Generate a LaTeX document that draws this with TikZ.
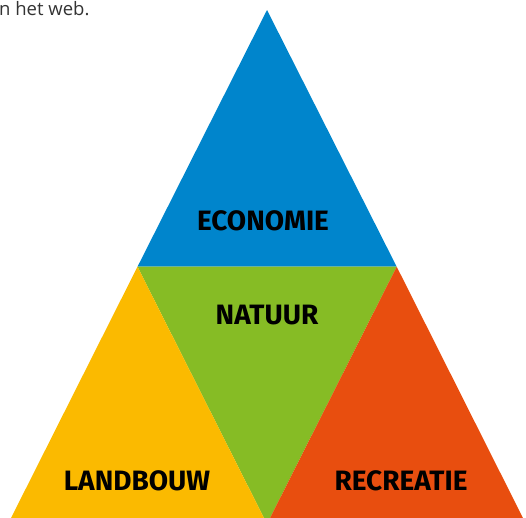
\documentclass[tikz,border=0pt]{standalone}
\usepackage{fontspec}
\setmainfont{Open Sans}
\newfontfamily\labfont{Fira Sans}
\definecolor{cblue}{HTML}{0085CC}
\definecolor{cgreen}{HTML}{86BC25}
\definecolor{cyellow}{HTML}{FBBA00}
\definecolor{corange}{HTML}{E84E0F}
\definecolor{ctext}{HTML}{333333}
\tikzset{
  lab/.style={font=\labfont\bfseries\fontsize{28}{28}\selectfont, text=black, inner sep=0pt, anchor=base},
}
\begin{document}
\begin{tikzpicture}[x=1pt,y=-1pt]
\useasboundingbox (0,0) rectangle (526,517);
\begin{scope}
\clip (0,0) rectangle (526,517);
\coordinate (A) at (267,10);
\coordinate (L) at (137.5,266.7);
\coordinate (R) at (396.7,266.7);
\coordinate (B) at (267,524);
\coordinate (BL) at (8,524);
\coordinate (BR) at (526,524);
\fill[cblue] (A) -- (R) -- (L) -- cycle;
\fill[cgreen] (L) -- (R) -- (B) -- cycle;
\fill[cyellow] (L) -- (B) -- (BL) -- cycle;
\fill[corange] (R) -- (BR) -- (B) -- cycle;
\end{scope}
\node[lab] (eco) at (263,230) {ECONOMIE};
\node[lab] (nat) at (267,324) {NATUUR};
\node[lab] (lan) at (137,490) {LANDBOUW};
\node[lab] (rec) at (401,490) {RECREATIE};
\node[font=\fontsize{18.5}{18.5}\selectfont, text=ctext, anchor=base west, inner sep=0pt] (web) at (-1,15) {n het web.};
\end{tikzpicture}
\end{document}
